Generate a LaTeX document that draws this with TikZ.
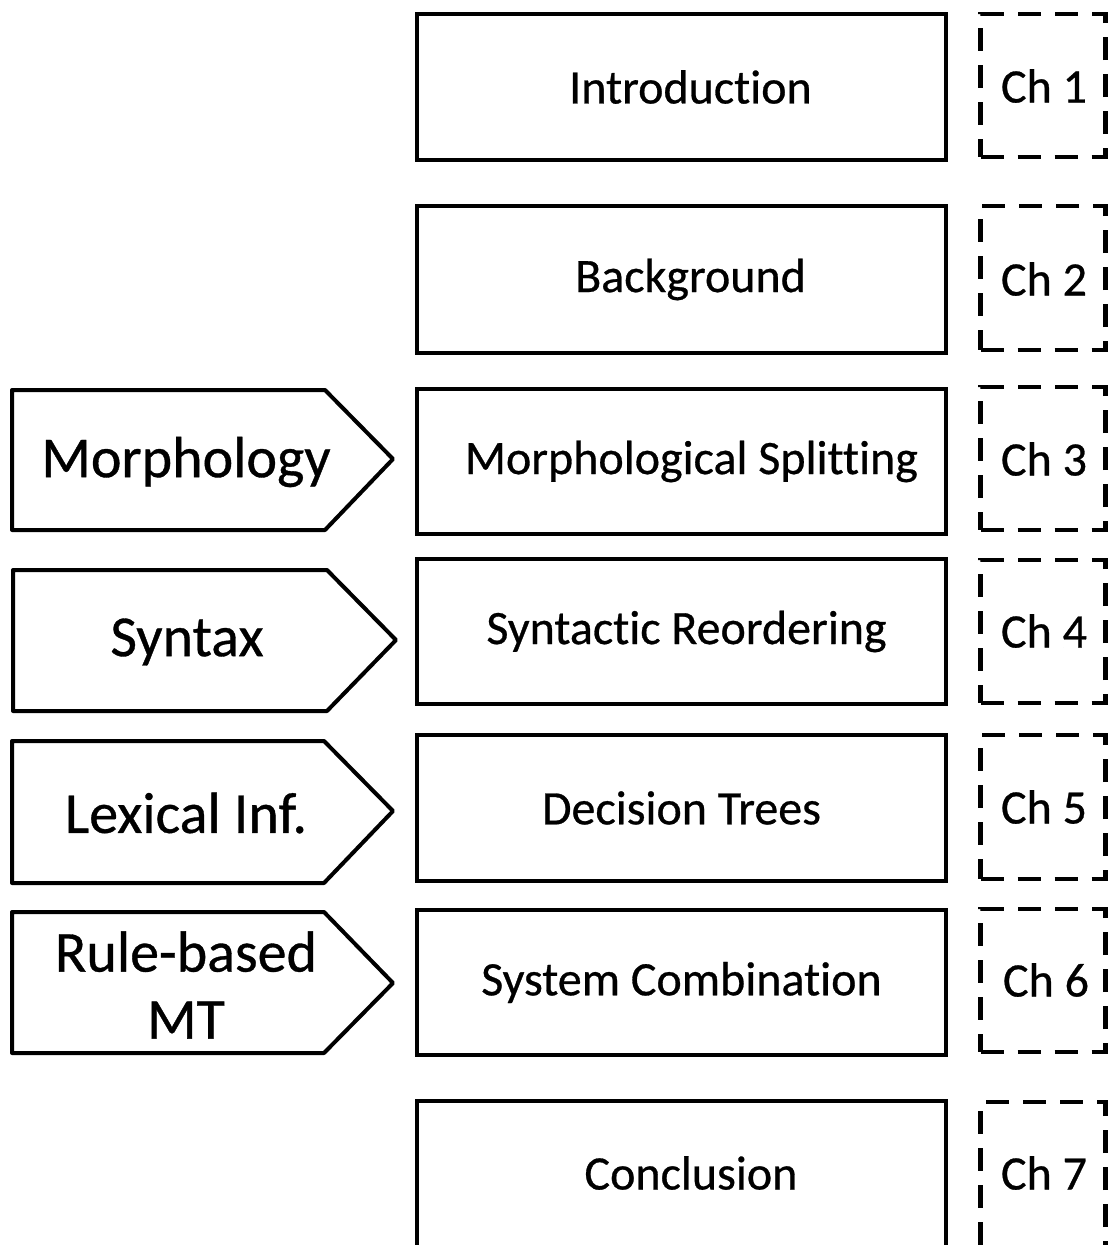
\documentclass[tikz,border=0pt]{standalone}
\usepackage{fontspec}
\setmainfont[Ligatures=NoCommon, FakeBold=0.6]{Carlito}
\begin{document}
\begin{tikzpicture}[x=1pt,y=-1pt,
  chapbox/.style={draw, line width=4pt, minimum width=529pt, inner sep=0pt},
  boxtext/.style={font=\fontsize{48}{54}\selectfont, inner sep=0pt},
  chnum/.style={draw, line width=4.5pt, dash pattern=on 23pt off 14pt, minimum width=125pt, inner sep=0pt},
  tagshape/.style={draw, line width=4pt, line join=round},
  taglabel/.style={font=\fontsize{58}{67}\selectfont, align=center, inner sep=0pt}]
\useasboundingbox (0,0) rectangle (1108,1245);
% chapter boxes
\foreach \n/\t/\b in {c1/14/160, c2/206/353, c3/389/534, c4/559/704, c5/735/881, c6/910/1055, c7/1101/1250}{
  \node[chapbox, minimum height={(\b-\t)*1pt}] (\n) at (681.5,{(\t+\b)/2}) {};
}
\node[boxtext, xshift=9pt] (t1) at (c1.center) {Introduction};
\node[boxtext, xshift=9pt] (t2) at (c2.center) {Background};
\node[boxtext, xshift=10pt] (t3) at (c3.center) {Morphological Splitting};
\node[boxtext, xshift=5pt] (t4) at (c4.center) {Syntactic Reordering};
\node[boxtext, xshift=0pt] (t5) at (c5.center) {Decision Trees};
\node[boxtext, xshift=0pt] (t6) at (c6.center) {System Combination};
\node[boxtext] (t7) at (691,1173) {Conclusion};
% chapter numbers
\foreach \n/\t/\b in {h1/14/157, h2/206/350, h3/387/530, h4/560/703, h5/735/879, h6/909/1052, h7/1102/1250}{
  \node[chnum, minimum height={(\b-\t)*1pt}] (\n) at (1043,{(\t+\b)/2}) {};
}
\node[boxtext] (n1) at (1044,86) {Ch 1};
\node[boxtext] (n2) at (1044,279) {Ch 2};
\node[boxtext] (n3) at (1044,459) {Ch 3};
\node[boxtext] (n4) at (1044,631) {Ch 4};
\node[boxtext] (n5) at (1044,807) {Ch 5};
\node[boxtext] (n6) at (1046,980) {Ch 6};
\node[boxtext] (n7) at (1044,1173) {Ch 7};
% tags
\draw[tagshape] (12,390) -- (325,390) -- (393,459) -- (325,530) -- (12,530) -- cycle;
\node[taglabel] (m) at (186,462) {Morphology};
\draw[tagshape] (13,570) -- (327,570) -- (396,640) -- (327,711) -- (13,711) -- cycle;
\node[taglabel] (s) at (187,642) {Syntax};
\draw[tagshape] (12,741) -- (324,741) -- (393,811) -- (324,883) -- (12,883) -- cycle;
\node[taglabel] (l) at (186,813) {Lexical Inf.};
\draw[tagshape] (12,912) -- (324,912) -- (393,983) -- (324,1053) -- (12,1053) -- cycle;
\node[taglabel] (r) at (186,985) {Rule-based\\MT};
\end{tikzpicture}
\end{document}
